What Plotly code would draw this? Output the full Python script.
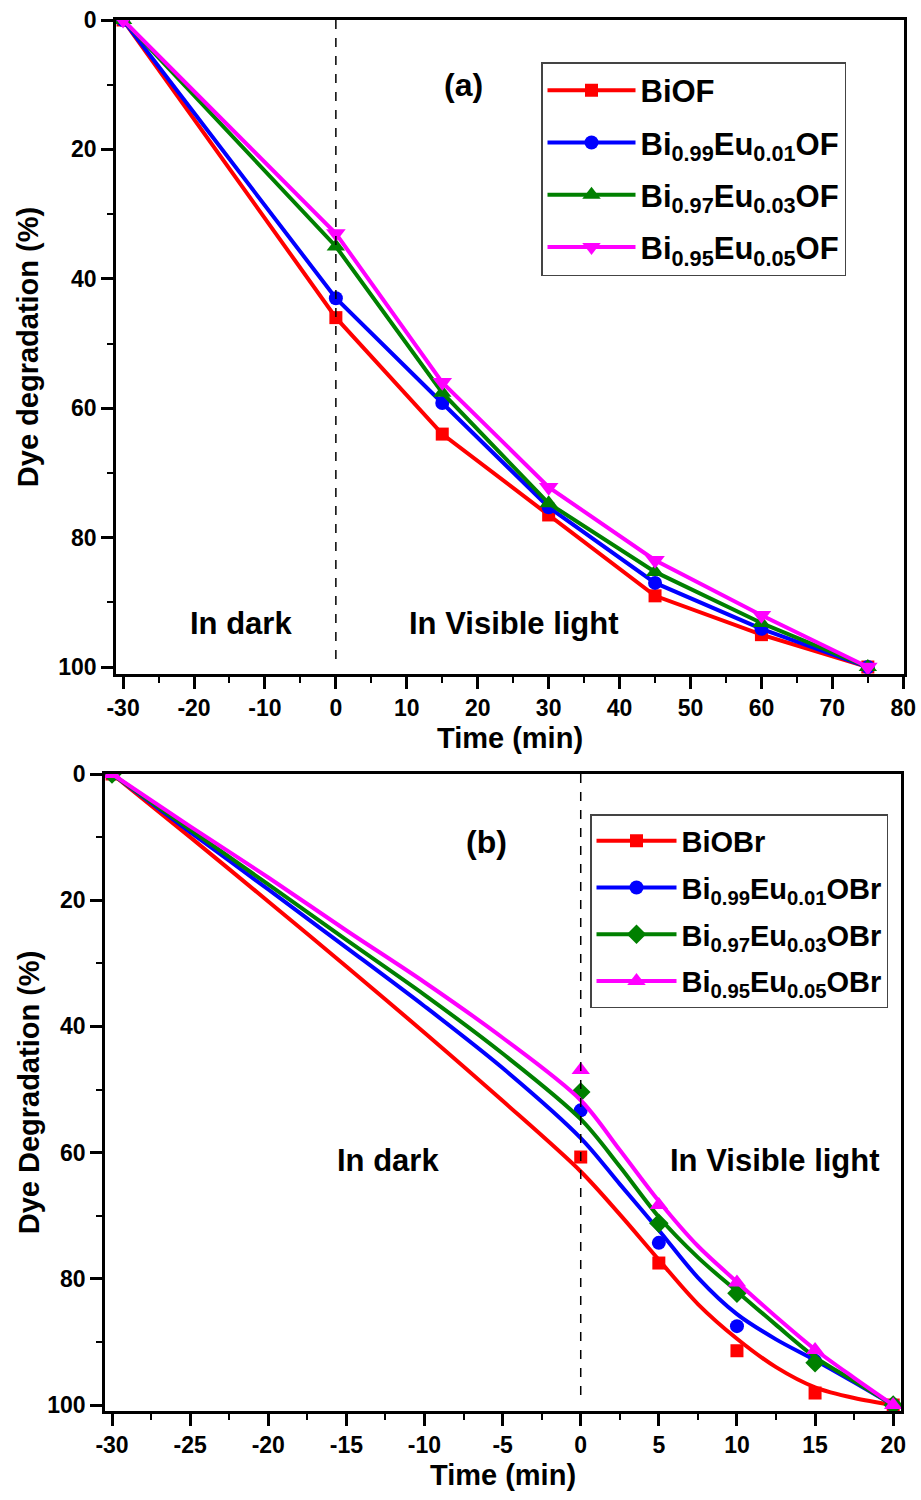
import plotly.graph_objects as go

FONT = "Liberation Sans, Arial, sans-serif"

# ---------------- Panel (a) data ----------------
time_a = [-30, 0, 15, 30, 45, 60, 75]
biof = [0, 46, 64, 76.5, 89, 95, 100]
bi99_of = [0, 43, 59.2, 75.3, 87, 94.1, 100]
bi97_of = [0, 35, 57.6, 74.7, 85.3, 93.2, 100]
bi95_of = [0, 33, 56, 72.2, 83.5, 92, 100]
names_a = ["BiOF", "Bi<sub>0.99</sub>Eu<sub>0.01</sub>OF",
           "Bi<sub>0.97</sub>Eu<sub>0.03</sub>OF", "Bi<sub>0.95</sub>Eu<sub>0.05</sub>OF"]
xticks_a = [-30, -20, -10, 0, 10, 20, 30, 40, 50, 60, 70, 80]
xticklabels_a = ["-30", "-20", "-10", "0", "10", "20", "30", "40", "50", "60", "70", "80"]

# ---------------- Panel (b) data ----------------
time_b = [-30, 0, 5, 10, 15, 20]
biobr = [0, 60.7, 77.5, 91.4, 98.1, 100]
bi99_obr = [0, 53.3, 74.3, 87.5, 93, 100]
bi97_obr = [0, 50.4, 71.2, 82.3, 93.3, 100]
bi95_obr = [0, 46.9, 68.3, 80.6, 91.3, 100]
# fitted curves
time_fit = [-30, -25, -20, -15, -10, -5, 0, 2.5, 5, 7.5, 10, 12.5, 15, 17.5, 20]
biobr_fit = [0, 10, 20.2, 30.5, 41, 51.8, 63, 69.8, 77, 84, 89.5, 94, 97.2, 98.9, 100]
bi99_fit = [0, 9.2, 18.3, 27.5, 36.8, 46.6, 57.7, 65, 72.3, 79.8, 85.6, 89.6, 92.9, 96.4, 100]
bi97_fit = [0, 8.8, 17.5, 26.3, 35, 44.3, 54.7, 62.2, 70.2, 76.6, 82, 87.3, 92.4, 96.2, 100]
bi95_fit = [0, 8.3, 16.4, 24.8, 33, 41.8, 51.7, 59.6, 67.7, 74.8, 80.5, 86, 91.2, 95.7, 100]
names_b = ["BiOBr", "Bi<sub>0.99</sub>Eu<sub>0.01</sub>OBr",
           "Bi<sub>0.97</sub>Eu<sub>0.03</sub>OBr", "Bi<sub>0.95</sub>Eu<sub>0.05</sub>OBr"]
xticks_b = [-30, -25, -20, -15, -10, -5, 0, 5, 10, 15, 20]
xticklabels_b = ["-30", "-25", "-20", "-15", "-10", "-5", "0", "5", "10", "15", "20"]
yticks = [0, 20, 40, 60, 80, 100]

colors = ["#FF0000", "#0000FF", "#008000", "#FF00FF"]
symbols_a = ["square", "circle", "triangle-up", "triangle-down"]
symbols_b = ["square", "circle", "diamond", "triangle-up"]
msize_a = [13, 14, 16, 17]
msize_b = [13, 14, 15, 16]

fig = go.Figure()

series_a = [biof, bi99_of, bi97_of, bi95_of]
for i, ys in enumerate(series_a):
    fig.add_trace(go.Scatter(
        x=time_a, y=ys, mode="lines+markers", name=names_a[i],
        line=dict(color=colors[i], width=4),
        marker=dict(symbol=symbols_a[i], size=msize_a[i], color=colors[i]),
        xaxis="x", yaxis="y", legend="legend", legendgroup="a%d" % i))

series_b = [biobr, bi99_obr, bi97_obr, bi95_obr]
fits_b = [biobr_fit, bi99_fit, bi97_fit, bi95_fit]
for i in range(4):
    fig.add_trace(go.Scatter(
        x=time_fit, y=fits_b[i], mode="lines", showlegend=False,
        line=dict(color=colors[i], width=4, shape="spline", smoothing=0.9),
        xaxis="x2", yaxis="y2"))
    fig.add_trace(go.Scatter(
        x=time_b, y=series_b[i], mode="markers", showlegend=False,
        marker=dict(symbol=symbols_b[i], size=msize_b[i], color=colors[i]),
        xaxis="x2", yaxis="y2"))
for i in range(4):
    fig.add_trace(go.Scatter(
        x=[None], y=[None], mode="lines+markers", name=names_b[i],
        line=dict(color=colors[i], width=4),
        marker=dict(symbol=symbols_b[i], size=msize_b[i], color=colors[i]),
        xaxis="x2", yaxis="y2", legend="legend2", legendgroup="b%d" % i))

W, H = 921, 1500
# panel plot areas (pixels)
ax_l, ax_r, ax_t, ax_b = 116, 904, 20, 674
bx_l, bx_r, bx_t, bx_b = 105, 901, 774, 1411

tickfont = dict(family=FONT, size=23, color="black", weight="bold")
titlefont = dict(family=FONT, size=29, color="black", weight="bold")

common_x = dict(showgrid=False, zeroline=False, showline=True, linecolor="black",
                linewidth=2.5, mirror=True, ticks="outside", ticklen=12, tickwidth=2.5,
                tickcolor="black", tickfont=tickfont, automargin=False)
common_y = dict(showgrid=False, zeroline=False, showline=True, linecolor="black",
                linewidth=2.5, mirror=True, ticks="outside", ticklen=12, tickwidth=2.5,
                tickcolor="black", tickfont=tickfont, tickvals=yticks, automargin=False,
                minor=dict(ticks="outside", ticklen=6, tickwidth=2, dtick=10, tick0=0,
                           tickcolor="black"))
overlay = dict(showgrid=False, zeroline=False, showline=False, ticks="inside", ticklen=4,
               tickwidth=1.5, tick0=0, showticklabels=False, tickcolor="black",
               automargin=False)

fig.update_layout(
    width=W, height=H, margin=dict(l=0, r=0, t=0, b=0, autoexpand=False),
    paper_bgcolor="white", plot_bgcolor="white",
    xaxis=dict(common_x, domain=[ax_l / W, ax_r / W], range=[-31, 80.1], anchor="y",
               tickvals=xticks_a, ticktext=xticklabels_a,
               minor=dict(ticks="outside", ticklen=6, tickwidth=2, dtick=5, tick0=0,
                          tickcolor="black"),
               title=dict(text="Time (min)", font=titlefont, standoff=8)),
    yaxis=dict(common_y, domain=[1 - ax_b / H, 1 - ax_t / H], range=[101.08, 0], anchor="x",
               title=dict(text="Dye degradation (%)", font=titlefont, standoff=12)),
    xaxis2=dict(common_x, domain=[bx_l / W, bx_r / W], range=[-30.45, 20.5], anchor="y2",
                tickvals=xticks_b, ticktext=xticklabels_b,
                minor=dict(ticks="outside", ticklen=6, tickwidth=2, dtick=2.5, tick0=0,
                           tickcolor="black"),
                title=dict(text="Time (min)", font=titlefont, standoff=8)),
    yaxis2=dict(common_y, domain=[1 - bx_b / H, 1 - bx_t / H], range=[100.95, 0], anchor="x2",
                title=dict(text="Dye Degradation (%)", font=titlefont, standoff=0)),
    xaxis3=dict(overlay, overlaying="x", side="top", anchor="y", range=[-31, 80.1], dtick=5),
    yaxis3=dict(overlay, overlaying="y", side="right", anchor="x", range=[101.08, 0], dtick=10),
    xaxis4=dict(overlay, overlaying="x2", side="top", anchor="y2", range=[-30.45, 20.5], dtick=2.5),
    yaxis4=dict(overlay, overlaying="y2", side="right", anchor="x2", range=[100.95, 0], dtick=10),
    legend=dict(x=541 / W, y=1 - 62 / H, xanchor="left", yanchor="top",
                bgcolor="white", bordercolor="#444444", borderwidth=1.5,
                font=dict(family=FONT, size=31, color="black", weight="bold"),
                traceorder="grouped", tracegroupgap=9, itemwidth=88),
    legend2=dict(x=590 / W, y=1 - 814 / H, xanchor="left", yanchor="top",
                 bgcolor="white", bordercolor="#444444", borderwidth=1.5,
                 font=dict(family=FONT, size=29, color="black", weight="bold"),
                 traceorder="grouped", tracegroupgap=6, itemwidth=80),
    shapes=[
        dict(type="line", xref="x", yref="y", x0=0, x1=0, y0=0, y1=98.9,
             line=dict(color="black", width=1.5, dash="dash")),
        dict(type="line", xref="x2", yref="y2", x0=0, x1=0, y0=0, y1=98.7,
             line=dict(color="black", width=1.5, dash="dash")),
    ],
    annotations=[
        dict(x=18, y=10, xref="x", yref="y", text="(a)", showarrow=False,
             font=dict(family=FONT, size=32, color="black", weight="bold")),
        dict(x=-13.4, y=93.2, xref="x", yref="y", text="In dark", showarrow=False,
             font=dict(family=FONT, size=31, color="black", weight="bold")),
        dict(x=25.1, y=93.2, xref="x", yref="y", text="In Visible light", showarrow=False,
             font=dict(family=FONT, size=31, color="black", weight="bold")),
        dict(x=-6.06, y=10.8, xref="x2", yref="y2", text="(b)", showarrow=False,
             font=dict(family=FONT, size=32, color="black", weight="bold")),
        dict(x=-12.33, y=61.2, xref="x2", yref="y2", text="In dark", showarrow=False,
             font=dict(family=FONT, size=31, color="black", weight="bold")),
        dict(x=12.44, y=61.2, xref="x2", yref="y2", text="In Visible light", showarrow=False,
             font=dict(family=FONT, size=31, color="black", weight="bold")),
    ],
)

fig.write_html("out.html")
